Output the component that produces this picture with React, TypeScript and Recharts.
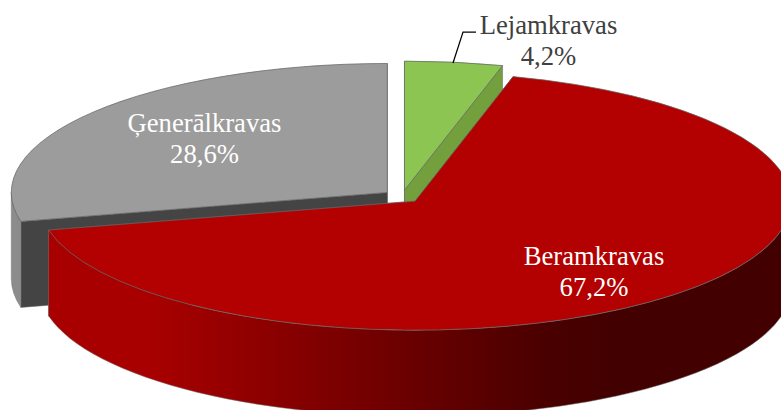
import { Pie, PieChart } from "recharts";

const names = ["Lejamkravas", "Generālkravas", "Beramkravas"];
const labels = ["Lejamkravas", "Ģenerālkravas", "Beramkravas"];
const shares = [4.2, 28.6, 67.2];

const data = names.map((name, i) => ({ name, label: labels[i], value: shares[i] }));

// top face, cut wall, outer wall
const colors: Record<string, { top: string; cut: string; side: string; text: string }> = {
  Lejamkravas: { top: "#8cc552", cut: "#73a03d", side: "#73a03d", text: "#404040" },
  "Generālkravas": { top: "#9c9c9c", cut: "#444444", side: "#8c8c8c", text: "#ffffff" },
  Beramkravas: { top: "#b30000", cut: "#7a0000", side: "url(#redWall)", text: "#ffffff" },
};

const labelCenter: Record<string, [number, number]> = {
  Lejamkravas: [548.5, 34],
  "Generālkravas": [204.5, 131.5],
  Beramkravas: [594, 265],
};

const SQUASH = 129 / 376; // tilt of the pie
const DEPTH = 86;
const EXPLODE = 0.05;
const rad = (a: number) => (a * Math.PI) / 180;

// Sector drawn as a tilted, extruded slice, from the angles the Pie computed
function Slice3D(props: any) {
  const { cx, cy, outerRadius, startAngle, endAngle, name } = props;
  const rx = outerRadius;
  const ry = outerRadius * SQUASH;
  const mid = rad((startAngle + endAngle) / 2);
  const ox = cx + EXPLODE * rx * Math.cos(mid);
  const oy = cy - EXPLODE * ry * Math.sin(mid);
  const pt = (a: number, dy = 0) => `${ox + rx * Math.cos(rad(a))} ${oy - ry * Math.sin(rad(a)) + dy}`;
  const c = colors[name];
  const large = endAngle - startAngle > 180 ? 1 : 0;

  const cutWall = (a: number) =>
    `M${ox} ${oy}L${pt(a)}L${pt(a, DEPTH)}L${ox} ${oy + DEPTH}Z`;

  const from = Math.max(startAngle, 180);
  const to = Math.min(endAngle, 360);
  const outer =
    to > from
      ? `M${pt(from)}A${rx} ${ry} 0 0 0 ${pt(to)}L${pt(to, DEPTH)}A${rx} ${ry} 0 0 1 ${pt(from, DEPTH)}Z`
      : null;

  return (
    <g>
      <defs>
        <linearGradient id="redWall" gradientUnits="userSpaceOnUse" x1={150} y1={0} x2={620} y2={0}>
          <stop offset="0" stopColor="#a80000" />
          <stop offset="0.84" stopColor="#4a0000" />
          <stop offset="1" stopColor="#420000" />
        </linearGradient>
      </defs>
      <path d={cutWall(startAngle)} fill={c.cut} stroke="#666" strokeWidth={0.5} />
      <path d={cutWall(endAngle)} fill={c.cut} stroke="#666" strokeWidth={0.5} />
      {outer && <path d={outer} fill={c.side} stroke="#777" strokeWidth={0.5} />}
      <path
        d={`M${ox} ${oy}L${pt(startAngle)}A${rx} ${ry} 0 ${large} 0 ${pt(endAngle)}Z`}
        fill={c.top}
        stroke="#666"
        strokeWidth={0.75}
      />
    </g>
  );
}

function SliceLabel(props: any) {
  const { name, value, payload } = props;
  const [x, y] = labelCenter[name];
  const c = colors[name];
  const text = payload?.label ?? name;
  return (
    <g>
      {name === "Lejamkravas" && <path d="M453 63L463 32L476 32" fill="none" stroke="#000" strokeWidth={1.25} />}
      <text x={x} y={y} textAnchor="middle" fontFamily="Liberation Serif" fontSize={26.67} fill={c.text}>
        <tspan x={x}>{text}</tspan>
        <tspan x={x} dy={31}>{`${String(value).replace(".", ",")}%`}</tspan>
      </text>
    </g>
  );
}

export default function App() {
  const start = 90 - shares[0] * 3.6;
  return (
    <div style={{ position: "absolute", left: 0, top: 0, width: 781, height: 410, overflow: "hidden", background: "#fff" }}>
      <PieChart width={781} height={410} margin={{ top: 0, right: 0, bottom: 0, left: 0 }}>
        <Pie
          data={data}
          dataKey="value"
          nameKey="name"
          cx={402}
          cy={196.5}
          innerRadius={0}
          outerRadius={376}
          startAngle={start}
          endAngle={start + 360}
          paddingAngle={0}
          shape={Slice3D}
          label={SliceLabel}
          labelLine={false}
          stroke="none"
          isAnimationActive={false}
        />
      </PieChart>
    </div>
  );
}
